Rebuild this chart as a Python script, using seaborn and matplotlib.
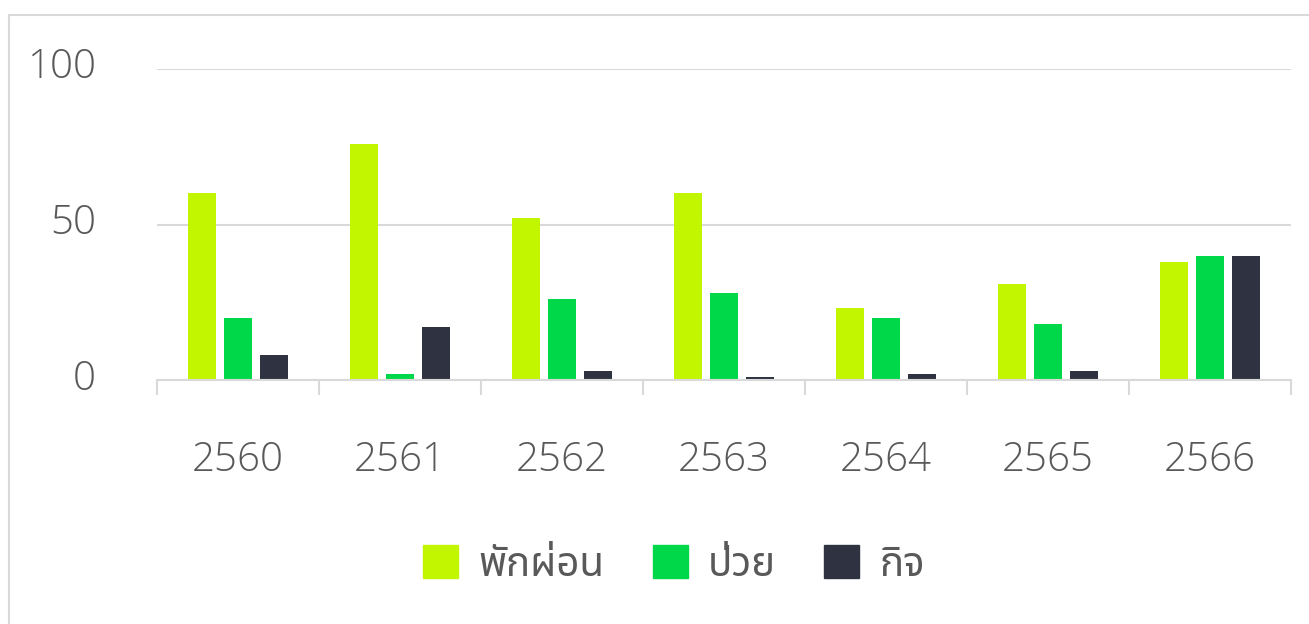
import numpy as np
import pandas as pd
import matplotlib
matplotlib.use("Agg")
import matplotlib.pyplot as plt
import seaborn as sns
from matplotlib import font_manager
from matplotlib.ft2font import FT2Font
from matplotlib.patches import Rectangle
from matplotlib.transforms import ScaledTranslation

years = ["2560", "2561", "2562", "2563", "2564", "2565", "2566"]
leave_types = ["พักผ่อน", "ป่วย", "กิจ"]
vacation = [60, 76, 52, 60, 23, 31, 38]
sick = [20, 2, 26, 28, 20, 18, 40]
personal = [8, 17, 3, 1, 2, 3, 40]

PALETTE = ["#C2F500", "#00D84A", "#2F3341"]
TEXT = "#595959"
GRID = "#D9D9D9"


def find_thai_font():
    # pick an installed family that actually has Thai glyphs
    found = []
    for f in font_manager.fontManager.ttflist:
        try:
            cmap = FT2Font(f.fname).get_charmap()
        except Exception:
            continue
        if ord("พ") in cmap and ord("ก") in cmap:
            found.append(f.name)
    for pref in ["Noto Sans Thai", "Noto Sans Thai Looped", "Loma", "Garuda", "DejaVu Sans"]:
        if pref in found:
            return pref
    return found[0] if found else "DejaVu Sans"


sns.set_theme(style="white")
thai = find_thai_font()
plt.rcParams["font.family"] = ["Open Sans", thai, "DejaVu Sans"]

df = pd.DataFrame({
    "year": years * 3,
    "type": [leave_types[0]] * 7 + [leave_types[1]] * 7 + [leave_types[2]] * 7,
    "value": vacation + sick + personal,
})

fig = plt.figure(figsize=(13.09, 6.24), dpi=100)
ax = fig.add_axes([157 / 1309, (624 - 380) / 624, (1291 - 157) / 1309, (380 - 69) / 624])

sns.barplot(
    data=df, x="year", y="value", hue="type", palette=PALETTE,
    width=0.667, gap=0.22, ax=ax, legend=False, saturation=1,
    edgecolor="none",
)

ax.set_ylim(0, 100)
ax.set_xlim(-0.5, 6.5)
ax.set_yticks([0, 50, 100])
ax.set_xlabel("")
ax.set_ylabel("")
ax.yaxis.grid(True, color=GRID, linewidth=1.5)
ax.set_axisbelow(True)
for s in ["left", "top", "right"]:
    ax.spines[s].set_visible(False)
ax.spines["bottom"].set_color(GRID)
ax.spines["bottom"].set_linewidth(1.5)

# category separators below the axis
ax.set_xticks(np.arange(-0.5, 7, 1), minor=True)
ax.tick_params(axis="x", which="minor", bottom=True, length=11, color=GRID,
               width=1.5, direction="out")
ax.tick_params(axis="x", which="major", length=0, pad=43, labelsize=29, labelcolor=TEXT)
ax.tick_params(axis="y", length=0, pad=44, labelsize=29, labelcolor=TEXT)
shift_up = ScaledTranslation(0, 6 / 100, fig.dpi_scale_trans)
for lab in ax.get_xticklabels() + ax.get_yticklabels():
    lab.set_fontweight(300)
for lab in ax.get_yticklabels():
    lab.set_transform(lab.get_transform() + shift_up)

handles = [Rectangle((0, 0), 1, 1, color=c) for c in PALETTE]
leg = fig.legend(
    handles, leave_types, loc="center", bbox_to_anchor=(0.515, 1 - 565 / 624),
    ncol=3, frameon=False, prop={"size": 29, "weight": 300},
    handlelength=0.87, handleheight=0.87,
    handletextpad=0.5, columnspacing=1.2, labelcolor=TEXT,
)

fig.patches.append(Rectangle((9 / 1309, -0.1), 1.2, (624 - 15) / 624 + 0.1,
                             transform=fig.transFigure, fill=False,
                             edgecolor=GRID, linewidth=1.5))

fig.savefig("out.png", dpi=100)
